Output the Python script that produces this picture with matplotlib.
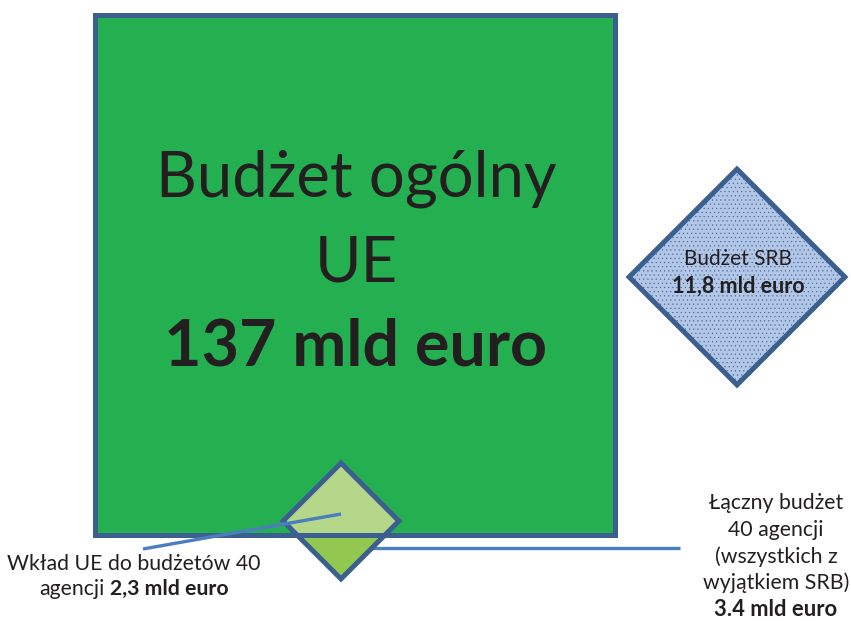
import numpy as np
import matplotlib
matplotlib.use('Agg')
import matplotlib.pyplot as plt
from matplotlib.patches import Polygon, Rectangle

plt.rcParams['font.family'] = ['Lato', 'DejaVu Sans']

# budgets in bn euro
names = ['Budżet ogólny UE', 'Budżet SRB', 'Wkład UE', 'Łączny budżet 40 agencji']
budgets = [137, 11.8, 2.3, 3.4]

TXT = '#231F20'
EDGE = '#3B6090'
LINE = '#4A7EBF'

fig = plt.figure(figsize=(8.51, 6.21), dpi=100)
ax = fig.add_axes([0, 0, 1, 1])
ax.set_xlim(0, 851)
ax.set_ylim(621, 0)
ax.axis('off')

# area scale: big square side -> 137 bn
side = 520
k = side ** 2 / budgets[0]
x0, y0 = 94.5, 14.5
bottom = y0 + side


def diamond(cx, cy, value):
    h = np.sqrt(value * k / 2)
    return np.array([[cx, cy - h], [cx + h, cy], [cx, cy + h], [cx - h, cy]])


# big square fill
ax.add_patch(Rectangle((x0, y0), side, side, facecolor='#24B050', edgecolor='none', zorder=1))

# small diamond: agencies total, split by the square edge
d = diamond(341, 521, budgets[3])
clip_in = Rectangle((x0, y0), side, side, transform=ax.transData)
top = Polygon(d, closed=True, facecolor='#B5D789', edgecolor='none', zorder=2)
ax.add_patch(top)
top.set_clip_path(clip_in)
clip_out = Rectangle((0, bottom), 851, 200, transform=ax.transData)
low = Polygon(d, closed=True, facecolor='#92C84F', edgecolor='none', zorder=2)
ax.add_patch(low)
low.set_clip_path(clip_out)

# square border on top
ax.add_patch(Rectangle((x0, y0), side, side, facecolor='none', edgecolor=EDGE, lw=3.6, zorder=3))
ax.add_patch(Polygon(d, closed=True, facecolor='none', edgecolor=EDGE, lw=3.6, zorder=4, joinstyle='miter'))

# SRB diamond
plt.rcParams['hatch.color'] = '#A8BEE1'
plt.rcParams['hatch.linewidth'] = 0.3
ax.add_patch(Polygon(diamond(737, 277, budgets[1]), closed=True, facecolor='#B2C6E7',
                     edgecolor=EDGE, lw=3.6, hatch='....', zorder=4, joinstyle='miter'))

# connector lines
ax.plot([341, 143], [514, 549], color=LINE, lw=2.4, solid_capstyle='butt', zorder=5)
ax.plot([372, 680], [548, 548], color=LINE, lw=2.4, solid_capstyle='butt', zorder=1)

# texts
ax.text(356, 197, 'Budżet ogólny', fontsize=45.6, color=TXT, ha='center', va='baseline', zorder=6)
ax.text(356, 282, 'UE', fontsize=45.6, color=TXT, ha='center', va='baseline', zorder=6)
ax.text(356, 365, f'{budgets[0]:g} mld euro', fontsize=46.5, fontweight='bold', color=TXT,
        ha='center', va='baseline', zorder=6)

srb = f'{budgets[1]:g}'.replace('.', ',')
ax.text(738, 265, 'Budżet SRB', fontsize=15, color=TXT, ha='center', va='baseline', zorder=6)
ax.text(738, 293, f'{srb} mld euro', fontsize=15.5, fontweight='bold', color=TXT,
        ha='center', va='baseline', zorder=6)

FS = 15.3
ax.text(134, 570, 'Wkład UE do budżetów 40', fontsize=FS, color=TXT, ha='center', va='baseline')

# mixed normal/bold line, centred
fig.canvas.draw()
r = fig.canvas.get_renderer()
eu = f'{budgets[2]:g}'.replace('.', ',')
t1 = ax.text(0, 595, 'agencji', fontsize=FS, color=TXT, ha='left', va='baseline')
t2 = ax.text(0, 595, f'{eu} mld euro', fontsize=FS, fontweight='bold', color=TXT, ha='left', va='baseline')
w1 = t1.get_window_extent(r).width
w2 = t2.get_window_extent(r).width
gap = 5
start = 134 - (w1 + gap + w2) / 2
t1.set_x(start)
t2.set_x(start + w1 + gap)

right = ['Łączny budżet', '40 agencji', '(wszystkich z', 'wyjątkiem SRB)']
for i, s in enumerate(right):
    ax.text(776, 509 + i * 26.8, s, fontsize=FS, color=TXT, ha='center', va='baseline')
ax.text(776, 509 + 4 * 26.8, f'{budgets[3]:g} mld euro', fontsize=FS + 0.5, fontweight='bold',
        color=TXT, ha='center', va='baseline')

fig.savefig('out.png', dpi=100, facecolor='white')
